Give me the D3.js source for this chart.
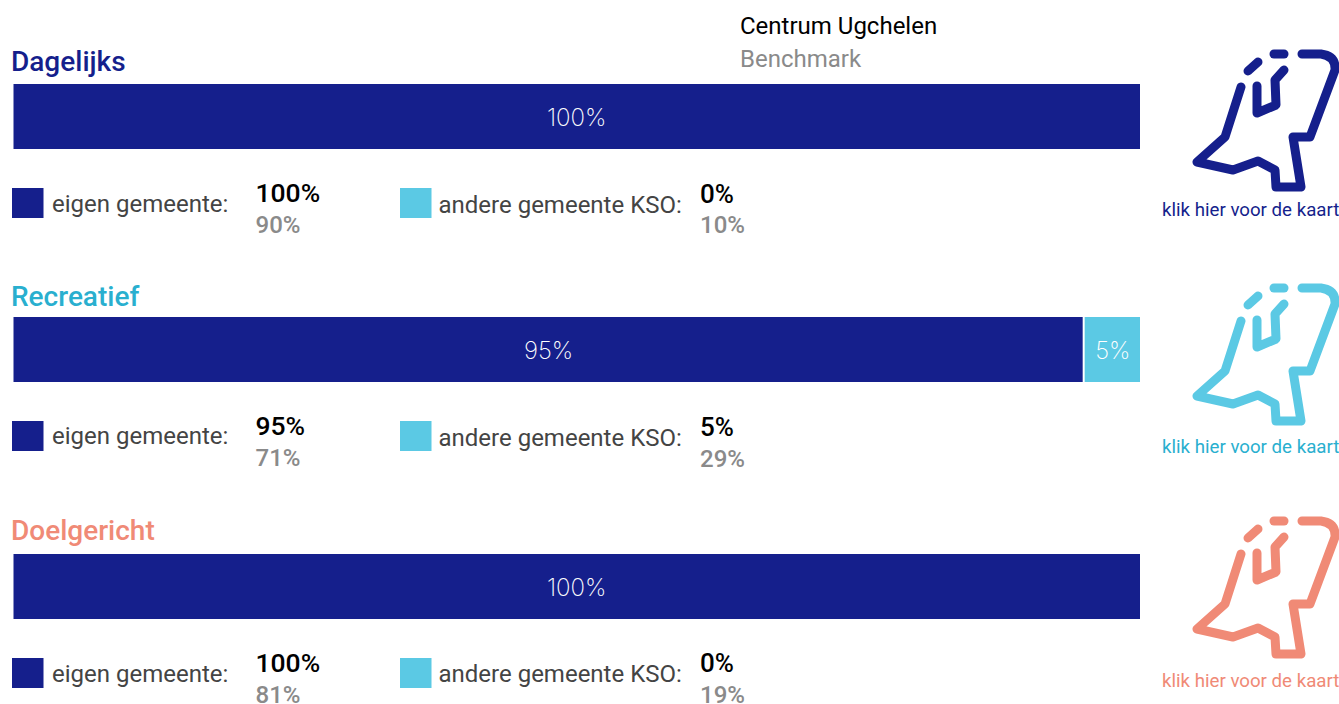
<!DOCTYPE html>
<html>
<head>
<meta charset="utf-8">
<script src="https://cdn.jsdelivr.net/npm/d3@7"></script>
<style>
  html, body { margin: 0; padding: 0; background: #fff; overflow: hidden; }
  text { font-family: Roboto, sans-serif; }
</style>
</head>
<body>
<div id="chart"></div>
<script>
// data
var categories = ["Dagelijks", "Recreatief", "Doelgericht"];
var eigen = [100, 95, 100];
var andere = [0, 5, 0];
var eigenBenchmark = [90, 71, 81];
var andereBenchmark = [10, 29, 19];
var titleColors = ["#151f8c", "#29afcf", "#f08a76"];
var iconColors = ["#151f8c", "#5bc9e4", "#f08a76"];

var colorEigen = "#151f8c";
var colorAndere = "#5bc9e4";

// vertical positions per block
var barTop = [84, 317, 554];
var titleBase = [71, 305.5, 540];
var swatchTop = [188, 421, 658];
var labelBase = [212, 444, 682];
var label2Base = [213, 446, 682];
var valueBase = [202, 435, 672];
var benchBase = [233, 466, 703];
var secondValueBase = [203, 436, 672];
var secondBenchBase = [233, 467, 703];
var iconTop = [0, 234, 467];
var linkBase = [216, 453, 687];

var width = 1339, height = 704;

var svg = d3.select("#chart")
    .append("svg")
    .attr("width", width)
    .attr("height", height)
    .style("display", "block");

var xScale = d3.scaleLinear().domain([0, 100]).range([13.5, 1140]);

// header
svg.append("text").attr("x", 740).attr("y", 34)
    .style("font-size", "24px").style("fill", "#000").text("Centrum Ugchelen");
svg.append("text").attr("x", 740).attr("y", 67)
    .style("font-size", "24px").style("fill", "#8a8a8a").text("Benchmark");

// the map icon, drawn once per block
var iconPaths = [
  "M152,24 L171,24 Q186,26 185,40 L160,107 L143,107 L151,157 L126,157 L125,140 L108,131 L83,140 L47,132 L75,107 L91,57",
  "M107,56 L107,83 L126,75 L125,50 L134,40",
  "M98,41 L108,32",
  "M124,24 L134,24"
];

categories.forEach(function(cat, i) {
  var g = svg.append("g");

  g.append("text").attr("x", 11).attr("y", titleBase[i])
      .style("font-size", "28px").style("font-weight", 500)
      .style("fill", titleColors[i]).text(cat);

  // stacked bar
  g.append("rect")
      .attr("x", xScale(0)).attr("y", barTop[i])
      .attr("width", xScale(eigen[i]) - xScale(0) - (andere[i] > 0 ? 1 : 0))
      .attr("height", 65)
      .style("fill", colorEigen);

  g.append("text")
      .attr("x", (xScale(0) + xScale(eigen[i])) / 2)
      .attr("y", barTop[i] + 42)
      .attr("text-anchor", "middle")
      .style("font-size", "24px").style("font-weight", 200)
      .style("font-family", "Inter, sans-serif")
      .style("fill", "#fff").text(eigen[i] + "%");

  if (andere[i] > 0) {
    g.append("rect")
        .attr("x", xScale(eigen[i]) + 1).attr("y", barTop[i])
        .attr("width", xScale(100) - xScale(eigen[i]) - 1)
        .attr("height", 65)
        .style("fill", colorAndere);

    g.append("text")
        .attr("x", (xScale(eigen[i]) + xScale(100)) / 2 + 1)
        .attr("y", barTop[i] + 42)
        .attr("text-anchor", "middle")
        .style("font-size", "24px").style("font-weight", 200)
        .style("font-family", "Inter, sans-serif")
        .style("fill", "#fff").text(andere[i] + "%");
  }

  // legend left
  g.append("rect").attr("x", 12).attr("y", swatchTop[i])
      .attr("width", 31.5).attr("height", 30).style("fill", colorEigen);
  g.append("text").attr("x", 52).attr("y", labelBase[i])
      .style("font-size", "24px").style("fill", "#444").text("eigen gemeente:");
  g.append("text").attr("x", 255.5).attr("y", valueBase[i])
      .style("font-size", "26.5px").style("font-weight", 500)
      .style("fill", "#000").text(eigen[i] + "%");
  g.append("text").attr("x", 255.5).attr("y", benchBase[i])
      .style("font-size", "24px").style("font-weight", 500)
      .style("fill", "#8a8a8a").text(eigenBenchmark[i] + "%");

  // legend right
  g.append("rect").attr("x", 400).attr("y", swatchTop[i])
      .attr("width", 31.5).attr("height", 30).style("fill", colorAndere);
  g.append("text").attr("x", 438.5).attr("y", label2Base[i])
      .style("font-size", "24px").style("fill", "#444").text("andere gemeente KSO:");
  g.append("text").attr("x", 700).attr("y", secondValueBase[i])
      .style("font-size", "26px").style("font-weight", 500)
      .style("fill", "#000").text(andere[i] + "%");
  g.append("text").attr("x", 700).attr("y", secondBenchBase[i])
      .style("font-size", "24px").style("font-weight", 500)
      .style("fill", "#8a8a8a").text(andereBenchmark[i] + "%");

  // map icon + link text
  var icon = g.append("g")
      .attr("transform", "translate(1150," + (30 + iconTop[i]) + ")");
  icon.selectAll("path")
      .data(iconPaths)
      .enter()
      .append("path")
      .attr("d", function(d) { return d; })
      .style("fill", "none")
      .style("stroke", iconColors[i])
      .style("stroke-width", 9)
      .style("stroke-linecap", "round")
      .style("stroke-linejoin", "round");

  g.append("text").attr("x", 1162).attr("y", linkBase[i])
      .style("font-size", "18.7px")
      .style("fill", titleColors[i]).text("klik hier voor de kaart");
});
</script>
</body>
</html>
